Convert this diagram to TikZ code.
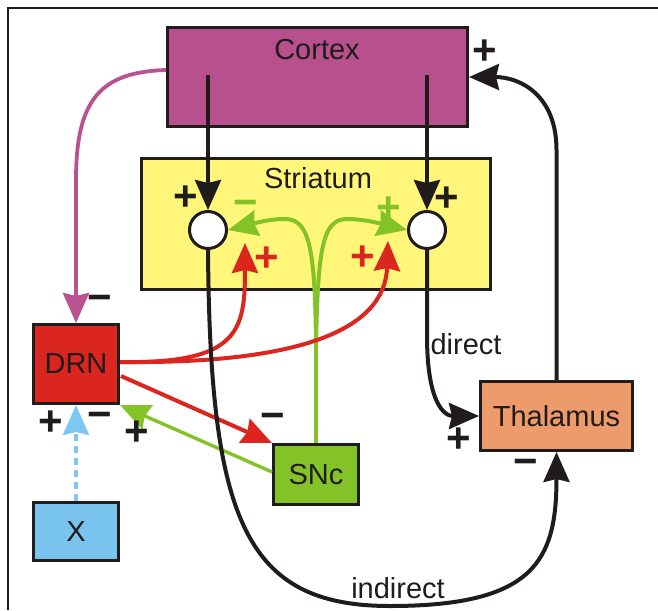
\documentclass[tikz,border=0pt]{standalone}
\usepackage{fontspec}
\setmainfont{Liberation Sans}
\usetikzlibrary{arrows.meta}
\definecolor{cortexc}{RGB}{183,80,140}
\definecolor{magline}{RGB}{184,82,146}
\definecolor{stryel}{RGB}{255,246,122}
\definecolor{drnred}{RGB}{218,38,30}
\definecolor{sncgreen}{RGB}{131,195,40}
\definecolor{thalorange}{RGB}{238,155,108}
\definecolor{xblue}{RGB}{120,196,238}
\definecolor{dashblue}{RGB}{125,200,242}
\definecolor{ink}{RGB}{32,28,28}
\tikzset{
  box/.style={draw=ink, line width=3pt, inner sep=0pt, text=ink, font=\fontsize{29}{29}\selectfont},
  neuron/.style={circle, draw=ink, fill=white, line width=3pt, minimum size=37pt, inner sep=0pt},
  lbl/.style={text=ink, inner sep=0pt, font=\fontsize{29}{29}\selectfont},
  sign/.style={inner sep=0pt, font=\fontsize{42}{42}\selectfont\bfseries},
  bigtip/.style={-{Stealth[length=30pt,width=26pt,inset=3pt]}},
  conn/.style={line width=4pt},
}
\begin{document}
\begin{tikzpicture}[x=1pt,y=-1pt]
\useasboundingbox (0,0) rectangle (658,610);
% frame
\draw[ink, line width=2pt] (8,610) -- (8,8) -- (658,8);

% boxes
\node[box, fill=cortexc, minimum width=300pt, minimum height=99pt] (cortex) at (317.5,77) {};
\node[lbl] (cortexlbl) at (317,50) {Cortex};
\node[box, fill=stryel, minimum width=349pt, minimum height=131pt] (str) at (316,224) {};
\node[lbl] (strlbl) at (318,178) {Striatum};
\node[neuron] (cl) at (208,230) {};
\node[neuron] (cr) at (427,230) {};
\node[box, fill=drnred, minimum width=85pt, minimum height=79pt] (drn) at (76,364) {DRN};
\node[box, fill=xblue, minimum width=85pt, minimum height=58pt] (x) at (76,531.5) {X};
\node[box, fill=sncgreen, minimum width=85pt, minimum height=60pt] (snc) at (316,474.5) {SNc};
\node[box, fill=thalorange, minimum width=152pt, minimum height=69pt] (thal) at (556.5,416) {Thalamus};

% coordinates
\coordinate (cs1) at (208,75);
\coordinate (cs2) at (427,75);
\coordinate (magstart) at (166,70);
\coordinate (gsplit) at (316,345);
\coordinate (r1) at (245,243);
\coordinate (r2) at (388,241);
\coordinate (drnA) at (120,362);
\coordinate (drnB) at (121,376);
\coordinate (sncL) at (272,472);

% cortex -> striatum
\draw[ink, conn, bigtip] (cs1) -- (cl.north);
\draw[ink, conn, bigtip] (cs2) -- (cr.north);

% thalamus -> cortex
\draw[ink, conn, bigtip] (thal.north) -- (556.5,150) .. controls (556.5,95) and (520,77) .. (cortex.east);

% cortex -> DRN (magenta)
\draw[magline, line width=3.8pt, bigtip] (magstart) .. controls (100,72) and (76,100) .. (76,180) -- (drn.north);

% SNc -> striatum (green)
\draw[sncgreen, conn] (snc.north) -- (gsplit);
\draw[sncgreen, conn, bigtip] (gsplit) .. controls (315,250) and (310,219) .. (285,219) .. controls (265,219) and (245,226) .. (cl.east);
\draw[sncgreen, conn, bigtip] (gsplit) .. controls (318,250) and (322,219) .. (347,219) .. controls (367,219) and (390,226) .. (cr.west);

% DRN -> striatum (red)
\draw[drnred, conn, bigtip] (drnA) .. controls (240,364) and (245,330) .. (r1);
\draw[drnred, conn, bigtip] (drnA) .. controls (300,364) and (385,330) .. (r2);

% DRN -> SNc
\draw[drnred, conn, bigtip] (drnB) -- (snc.north west);
% SNc -> DRN
\draw[sncgreen, line width=3.4pt, bigtip] (sncL) -- (drn.south east);

% X -> DRN
\draw[dashblue, line width=4pt, dash pattern=on 7pt off 5pt, bigtip] (x.north) -- (drn.south);

% direct pathway
\draw[ink, conn, bigtip] (cr.south) -- (427,335) .. controls (427,405) and (445,416) .. (thal.west);
% indirect pathway
\draw[ink, conn, bigtip] (cl.south) .. controls (210,520) and (245,606) .. (390,606) .. controls (535,606) and (556.5,560) .. (thal.south);

% path labels
\node[lbl] (directlbl) at (466,344) {direct};
\node[lbl] (indirectlbl) at (398,588) {indirect};

% signs
\node[sign, text=ink] (s1) at (485,52) {+};
\node[sign, text=ink] (s2) at (186,198) {+};
\node[sign, text=ink] (s3) at (447,199) {+};
\node[sign, text=sncgreen] (s4) at (246,208) {−};
\node[sign, text=sncgreen] (s5) at (389,209) {+};
\node[sign, text=drnred] (s6) at (267,259) {+};
\node[sign, text=drnred] (s7) at (363,258) {+};
\node[sign, text=ink] (s8) at (100,303) {−};
\node[sign, text=ink] (s9) at (51,423) {+};
\node[sign, text=ink] (s10) at (100,420) {−};
\node[sign, text=ink] (s11) at (137,433) {+};
\node[sign, text=ink] (s12) at (273,421) {−};
\node[sign, text=ink] (s13) at (459,440) {+};
\node[sign, text=ink] (s14) at (526,467) {−};
\end{tikzpicture}
\end{document}
